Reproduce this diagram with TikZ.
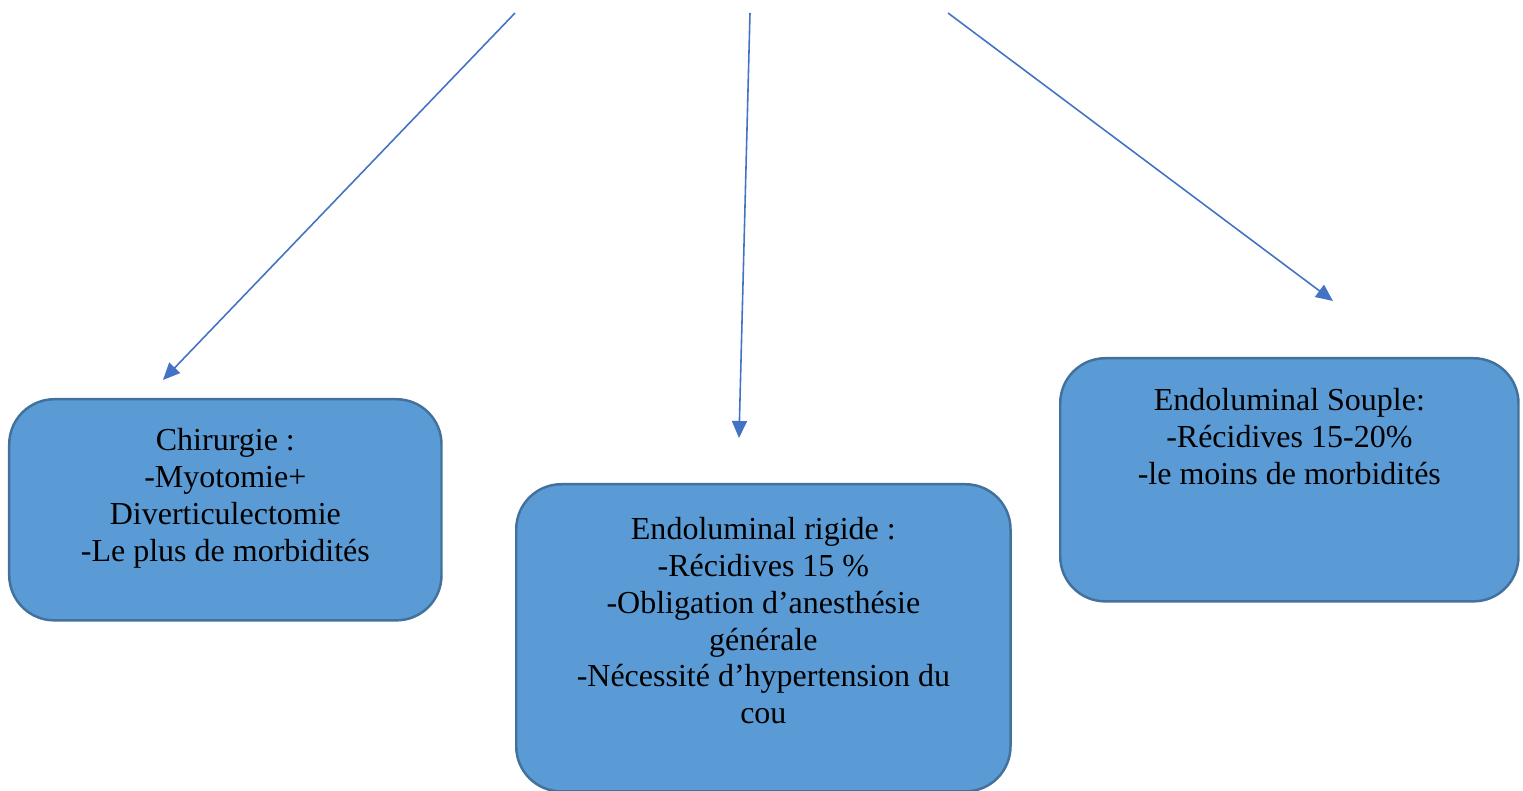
\documentclass[tikz,border=0pt]{standalone}
\usepackage{fontspec}
\setmainfont{Liberation Serif}
\usepackage{tikz}
\usetikzlibrary{positioning, arrows.meta}
\definecolor{boxfill}{HTML}{5B9BD5}
\definecolor{boxline}{HTML}{41719C}
\definecolor{arrowblue}{HTML}{4472C4}

\begin{document}
\begin{tikzpicture}[x=0.01cm, y=-0.01cm,
    % Define styles for the boxes, texts and arrows
        node distance=0.29cm,
        box/.style={draw=boxline, fill=boxfill, line width=0.7pt, rectangle, rounded corners=0.45cm, anchor=north west, inner sep=0pt},
        textnode/.style={align=center, inner sep=0pt, font=\fontsize{9.1}{10.45}\selectfont},
        arrow/.style={-{Triangle[length=0.17cm, width=0.15cm]}, draw=arrowblue, line width=0.45pt}
    ]
        \useasboundingbox (0,0) rectangle (1523,791);

        % Define the boxes
        \node[box, minimum width=4.32cm, minimum height=2.21cm] (chir) at (8,398) {};
        \node[box, minimum width=4.94cm, minimum height=3.07cm] (rigide) at (515,483) {};
        \node[box, minimum width=4.58cm, minimum height=2.43cm] (souple) at (1059,357) {};

        % Texts inside the boxes
        \node[textnode, below=0.3cm of chir.north] (chirtext) {Chirurgie :\\-Myotomie+\\Diverticulectomie\\-Le plus de morbidités};
        \node[textnode, below=0.34cm of rigide.north] (rigidetext) {Endoluminal rigide :\\-Récidives 15 \%\\-Obligation d’anesthésie\\générale\\-Nécessité d’hypertension du\\cou};
        \node[textnode, below=0.31cm of souple.north] (soupletext) {Endoluminal Souple:\\-Récidives 15-20\%\\-le moins de morbidités};

        % Free ends of the arrows
        \coordinate (startA) at (515,13);
        \coordinate (startB) at (750,13);
        \coordinate (startC) at (948,13);
        \coordinate (tipA) at (163,380);
        \coordinate (tipB) at (739,438);
        \coordinate (tipC) at (1333,301);

        % Draw the arrows
        \draw[arrow] (startA) -- (tipA);
        \draw[arrow] (startB) -- (tipB);
        \draw[arrow] (startC) -- (tipC);
    \end{tikzpicture}
\end{document}
